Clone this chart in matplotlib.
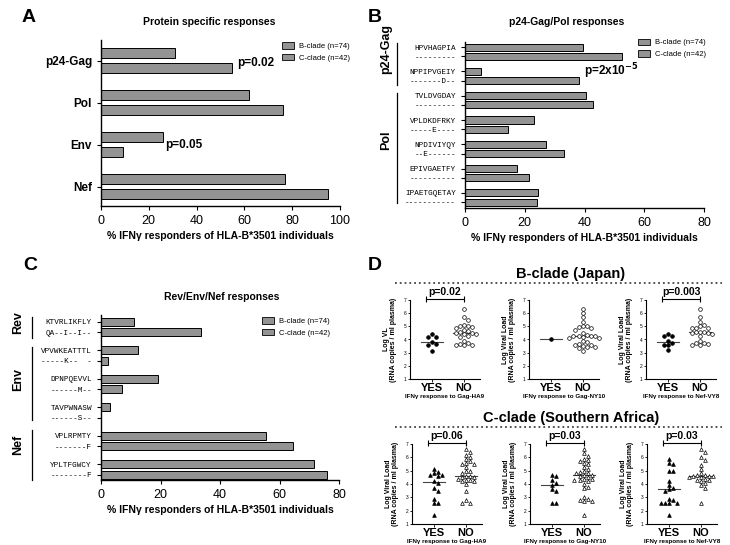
import numpy as np
import matplotlib
matplotlib.use('Agg')
import matplotlib.pyplot as plt
from matplotlib.patches import Patch
from matplotlib.lines import Line2D

plt.rcParams['font.family'] = ['Liberation Sans', 'DejaVu Sans']

# Panel A - protein specific responses
proteins = ['p24-Gag', 'Pol', 'Env', 'Nef']
prot_b = [31, 62, 26, 77]
prot_c = [55, 76, 9, 95]

# Panel B - p24-Gag/Pol epitopes
gp_epi_b = ['HPVHAGPIA', 'NPPIPVGEIY', 'TVLDVGDAY', 'VPLDKDFRKY',
            'NPDIVIYQY', 'EPIVGAETFY', 'IPAETGQETAY']
gp_epi_c = ['---------', '-------D--', '---------', '-----E----',
            '--E------', '----------', '-----------']
gp_b = [39.5, 5.5, 40.5, 23, 27, 17.5, 24.5]
gp_c = [52.5, 38, 43, 14.5, 33, 21.5, 24]

# Panel C - Rev/Env/Nef epitopes
ren_epi_b = ['KTVRLIKFLY', 'VPVWKEATTTL', 'DPNPQEVVL', 'TAVPWNASW',
             'VPLRPMTY', 'YPLTFGWCY']
ren_epi_c = ['QA--I--I--', '-----K--  -', '------M--', '------S--',
             '-------F', '--------F']
ren_b = [11, 12.5, 19, 3, 55.5, 71.5]
ren_c = [33.5, 2.5, 7, 0, 64.5, 76]

# Panel D - log viral load by IFNg response
b_ha9_yes = [4.4, 4.2, 4.2, 3.8, 3.65, 3.55, 3.15]
b_ha9_no = [6.3, 5.7, 5.5, 5.1, 5.0, 5.0, 4.95, 4.9, 4.7, 4.65, 4.55, 4.5,
            4.5, 4.45, 4.4, 4.3, 4.2, 3.9, 3.7, 3.65, 3.6, 3.6, 3.55]
b_ny10_yes = [4.0]
b_ny10_no = [6.3, 6.0, 5.7, 5.3, 5.0, 5.0, 4.95, 4.9, 4.75, 4.5, 4.35, 4.3,
             4.3, 4.3, 4.25, 4.2, 4.15, 4.1, 3.85, 3.8, 3.65, 3.6, 3.6, 3.5,
             3.45, 3.4, 3.35, 3.15]
b_vy8_yes = [4.4, 4.3, 4.3, 3.85, 3.7, 3.6, 3.55, 3.2]
b_vy8_no = [6.3, 5.7, 5.3, 5.1, 5.0, 4.9, 4.9, 4.85, 4.6, 4.6, 4.55, 4.5,
            4.5, 4.45, 4.3, 3.9, 3.75, 3.7, 3.65, 3.6, 3.55]
c_ha9_yes = [5.1, 4.9, 4.8, 4.7, 4.7, 4.6, 4.2, 4.1, 3.7, 3.5, 2.9, 2.6,
             2.6, 1.7]
c_ha9_no = [6.6, 6.4, 6.2, 6.0, 5.9, 5.7, 5.6, 5.5, 5.5, 5.3, 5.0, 5.0, 4.8,
            4.6, 4.6, 4.5, 4.5, 4.4, 4.3, 4.3, 4.2, 4.2, 4.0, 3.5, 2.8, 2.6,
            2.6]
c_ny10_yes = [4.7, 4.6, 4.3, 4.1, 3.9, 3.6, 3.5, 2.6, 2.6]
c_ny10_no = [6.6, 6.3, 6.1, 5.9, 5.8, 5.7, 5.6, 5.5, 5.3, 5.1, 5.0, 4.9,
             4.8, 4.8, 4.7, 4.7, 4.6, 4.5, 4.4, 4.4, 4.3, 4.3, 4.2, 4.0, 3.8,
             3.7, 3.0, 2.9, 2.8, 2.7, 2.7, 1.7]
c_vy8_yes = [5.9, 5.6, 5.5, 5.0, 5.0, 4.2, 3.9, 3.7, 3.6, 3.5, 2.9, 2.8,
             2.6, 2.6, 2.6, 2.6, 1.7]
c_vy8_no = [6.6, 6.4, 6.0, 5.8, 5.4, 5.1, 4.8, 4.7, 4.7, 4.6, 4.6, 4.6, 4.5,
            4.5, 4.4, 4.3, 4.3, 4.2, 4.1, 3.9, 3.7, 2.6]

W, H = 730, 545
fig = plt.figure(figsize=(W / 100, H / 100), dpi=100)
grey = '#939393'
xlab_txt = '% IFN\u03b3 responders of HLA-B*3501 individuals'


def px_axes(l, t, r, b):
    return fig.add_axes([l / W, 1 - b / H, (r - l) / W, (b - t) / H])


def ftext(x, y, s, **kw):
    fig.text(x / W, 1 - y / H, s, **kw)


def bar_panel(ax, b_vals, c_vals, off, hgt, xmax, ylim):
    pos = np.arange(len(b_vals))
    ax.barh(pos - off, b_vals, height=hgt, color=grey, edgecolor='black', linewidth=0.7)
    ax.barh(pos + off, c_vals, height=hgt, color=grey, edgecolor='black', linewidth=0.7)
    ax.set_xlim(0, xmax)
    ax.set_ylim(*ylim)
    ax.set_xticks(np.arange(0, xmax + 1, 20))
    ax.tick_params(axis='x', labelsize=9, length=3, width=0.8)
    ax.tick_params(axis='y', length=3, width=0.8)
    ax.spines[['top', 'right']].set_visible(False)
    ax.spines[['left', 'bottom']].set_linewidth(1.0)
    ax.set_xlabel(xlab_txt, fontsize=7.5, fontweight='bold', labelpad=3)
    return pos


def legend(ax, x, y):
    hs = [Patch(facecolor=grey, edgecolor='black', linewidth=0.6, label='B-clade (n=74)'),
          Patch(facecolor=grey, edgecolor='black', linewidth=0.6, label='C-clade (n=42)')]
    ax.legend(handles=hs, loc='upper left', bbox_to_anchor=(x, y), frameon=False,
              fontsize=5.5, borderaxespad=0, borderpad=0, handlelength=1.6,
              handleheight=0.9, handletextpad=0.6, labelspacing=0.5)


def group_label(ax, xline, xtext, y0, y1, ytext, s):
    tr = ax.get_yaxis_transform()
    ax.plot([xline, xline], [y0, y1], color='black', lw=0.9, transform=tr, clip_on=False)
    ax.text(xtext, ytext, s, transform=tr, rotation=90, ha='center', va='center',
            fontsize=9, fontweight='bold')


# ---- A ----
axA = px_axes(101, 40, 340, 206)
pos = bar_panel(axA, prot_b, prot_c, 0.18, 0.24, 100, (3.46, -0.49))
axA.set_yticks(pos)
axA.set_yticklabels(proteins, fontsize=8.5, fontweight='bold')
legend(axA, 0.757, 0.985)
axA.text(57, 0.05, 'p=0.02', fontsize=8.5, fontweight='bold', va='center')
axA.text(27, 2.02, 'p=0.05', fontsize=8.5, fontweight='bold', va='center')
ftext(29, 18, 'A', fontsize=14, fontweight='bold', ha='center', va='center')
ftext(209, 22, 'Protein specific responses', fontsize=7.5, fontweight='bold', ha='center', va='center')

# ---- B ----
axB = px_axes(465, 42, 704, 208)
pos = bar_panel(axB, gp_b, gp_c, 0.19, 0.29, 80, (6.43, -0.40))
axB.set_yticks(np.concatenate([pos - 0.19, pos + 0.19]))
axB.set_yticklabels(gp_epi_b + gp_epi_c, fontsize=5.5, family='Liberation Mono')
legend(axB, 0.724, 1.02)
axB.text(39.8, 0.81, 'p=2x10$^{\\mathbf{-5}}$', fontsize=8.5, fontweight='bold', va='center')
group_label(axB, -0.285, -0.33, -0.36, 1.37, -0.11, 'p24-Gag')
group_label(axB, -0.285, -0.33, 1.7, 6.23, 3.63, 'Pol')
ftext(375, 17, 'B', fontsize=14, fontweight='bold', ha='center', va='center')
ftext(567, 22, 'p24-Gag/Pol responses', fontsize=7.5, fontweight='bold', ha='center', va='center')

# ---- C ----
axC = px_axes(101, 315, 339, 480)
pos = bar_panel(axC, ren_b, ren_c, 0.19, 0.28, 80, (5.37, -0.42))
axC.set_yticks(np.concatenate([pos - 0.19, pos + 0.19]))
axC.set_yticklabels(ren_epi_b + ren_epi_c, fontsize=5.5, family='Liberation Mono')
legend(axC, 0.677, 0.985)
group_label(axC, -0.292, -0.35, -0.36, 0.39, -0.14, 'Rev')
group_label(axC, -0.292, -0.35, 0.69, 3.26, 1.86, 'Env')
group_label(axC, -0.292, -0.35, 3.61, 5.37, 4.14, 'Nef')
ftext(30, 266, 'C', fontsize=14, fontweight='bold', ha='center', va='center')
ftext(222, 297, 'Rev/Env/Nef responses', fontsize=7.5, fontweight='bold', ha='center', va='center')


# ---- D ----
def swarm_x(vals, center, xpx=31.8, ypx=13.3, d=3.9):
    pts = []
    step = d / xpx * 0.5
    cands = [0]
    for i in range(1, 25):
        cands += [i, -i]
    for v in vals:
        x = center
        for c in cands:
            x = center + c * step
            if all(((x - px) * xpx) ** 2 + ((v - py) * ypx) ** 2 >= d * d for px, py in pts):
                break
        pts.append((x, v))
    return [p[0] for p in pts]


def scatter_panel(ax, yes, no, marker, pval, ylab, xlab):
    ax.set_xlim(-0.7, 1.5)
    ax.set_ylim(1, 7)
    for x, vals, fc in [(0, yes, 'black'), (1, no, 'white')]:
        xs = swarm_x(vals, x)
        ax.scatter(xs, vals, s=7, marker=marker, facecolor=fc, edgecolor='black',
                   linewidth=0.5, clip_on=False, zorder=3)
        med = np.median(vals)
        ax.plot([x - 0.35, x + 0.35], [med, med], color='#444444', lw=0.8, zorder=2)
    ax.spines[['top', 'right']].set_visible(False)
    ax.spines[['left', 'bottom']].set_linewidth(0.8)
    ax.set_yticks(range(1, 8))
    ax.tick_params(axis='y', labelsize=3.5, length=1.5, width=0.6, pad=1)
    ax.set_xticks([0, 1])
    ax.set_xticklabels(['YES', 'NO'], fontsize=8, fontweight='bold')
    ax.tick_params(axis='x', length=2, width=0.6, pad=1)
    ax.set_xlabel(xlab, fontsize=4.5, fontweight='bold', labelpad=0.5)
    ax.set_ylabel(ylab, fontsize=5, fontweight='bold', linespacing=1.0)
    ax.yaxis.set_label_coords(-0.19, 0.5)
    if pval:
        ax.plot([-0.2, 1.0], [7.1, 7.1], color='black', lw=0.8, marker='|', ms=4,
                mew=0.8, clip_on=False)
        ax.text(0.4, 7.2, pval, ha='center', va='bottom', fontsize=7.5, fontweight='bold')


vl = 'Log Viral Load\n(RNA copies / ml plasma)'
top = [(410, b_ha9_yes, b_ha9_no, 'p=0.02', 'Log VL\n(RNA copies / ml plasma)', 'Gag-HA9'),
       (529, b_ny10_yes, b_ny10_no, None, vl, 'Gag-NY10'),
       (646, b_vy8_yes, b_vy8_no, 'p=0.003', vl, 'Nef-VY8')]
for l, yes, no, p, yl, ep in top:
    ax = px_axes(l, 300, l + 70, 379)
    scatter_panel(ax, yes, no, 'o', p, yl, 'IFN\u03b3 response to ' + ep)

bot = [(412, c_ha9_yes, c_ha9_no, 'p=0.06', 'Gag-HA9'),
       (530, c_ny10_yes, c_ny10_no, 'p=0.03', 'Gag-NY10'),
       (647, c_vy8_yes, c_vy8_no, 'p=0.03', 'Nef-VY8')]
for l, yes, no, p, ep in bot:
    ax = px_axes(l, 444, l + 70, 524)
    scatter_panel(ax, yes, no, '^', p, vl, 'IFN\u03b3 response to ' + ep)

ftext(375, 266, 'D', fontsize=14, fontweight='bold', ha='center', va='center')
ftext(571, 274, 'B-clade (Japan)', fontsize=10.5, fontweight='bold', ha='center', va='center')
ftext(571, 418, 'C-clade (Southern Africa)', fontsize=10.5, fontweight='bold', ha='center', va='center')
for yy in (283, 427):
    fig.add_artist(Line2D([395 / W, 722 / W], [1 - yy / H] * 2, ls=':', color='#444444', lw=1.3))

fig.savefig('out.png', dpi=100)
